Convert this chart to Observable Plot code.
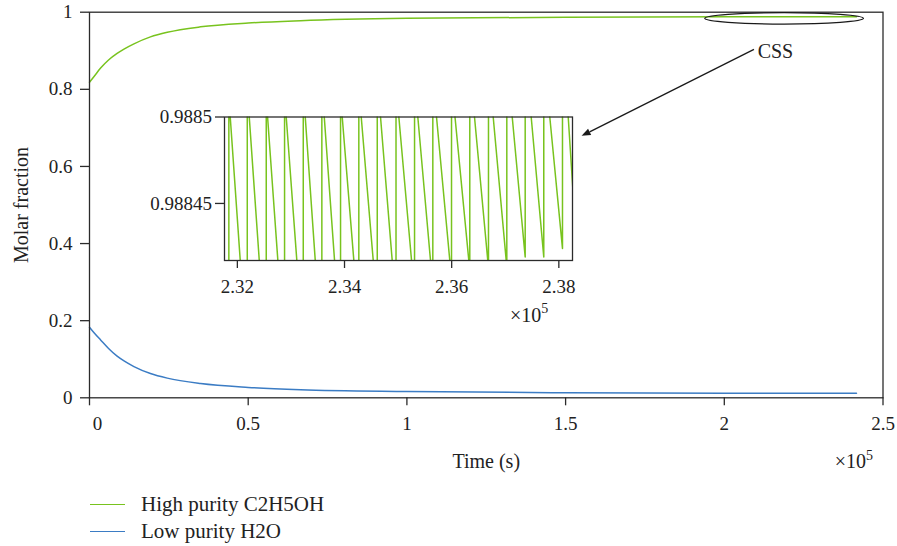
<!DOCTYPE html>
<html>
<head>
<meta charset="utf-8">
<script src="https://cdn.jsdelivr.net/npm/d3@7"></script>
<script src="https://cdn.jsdelivr.net/npm/@observablehq/plot@0.6"></script>
<style>
  body { margin: 0; background: #fff; }
  #wrap { position: relative; width: 897px; height: 546px; font-family: "Liberation Serif", serif; color: #222; background: #fff; }
  #wrap svg { position: absolute; left: 0; top: 0; }
  .legend-row { position: absolute; left: 90px; height: 24px; display: flex; align-items: center; font-size: 21px; white-space: nowrap; }
  .sw { width: 35px; height: 0; border-top: 1.6px solid; margin-right: 16px; }
</style>
</head>
<body>
<div id="wrap"></div>
<script>
// ---------- data ----------
const seriesNames = ["High purity C2H5OH", "Low purity H2O"];
const seriesColors = ["#78c31e", "#3b7cc4"];

// main chart: time (s) and molar fractions
const mainTime  = [0, 1500, 3500, 6000, 8700, 11000, 14000, 19200, 24500, 35000, 50000, 66500, 100000, 150000, 200000, 241650];
const ethanol   = [0.8185, 0.834, 0.855, 0.876, 0.893, 0.905, 0.918, 0.936, 0.948, 0.962, 0.972, 0.978, 0.984, 0.9868, 0.988, 0.9884];
const water     = [0.183, 0.168, 0.150, 0.128, 0.108, 0.095, 0.081, 0.063, 0.051, 0.037, 0.027, 0.021, 0.0163, 0.0132, 0.0120, 0.0116];

const mainXTicks = [0, 50000, 100000, 150000, 200000, 250000];
const mainYTicks = [0, 0.2, 0.4, 0.6, 0.8, 1];

// inset (cyclic steady state) : zoom on ethanol fraction
const insetTime = [
  231841, 231841, 231867, 232054,
  232185, 232185, 232222, 232409,
  232539, 232539, 232564, 232756,
  232881, 232881, 232912, 233110,
  233230, 233230, 233267, 233454,
  233577, 233577, 233622, 233814,
  233926, 233926, 233957, 234174,
  234267, 234267, 234312, 234536,
  234611, 234611, 234672, 234890,
  234961, 234961, 235014, 235251,
  235307, 235307, 235368, 235605,
  235648, 235648, 235717, 235965,
  235997, 235997, 236062, 236320,
  236338, 236338, 236426, 236674,
  236687, 236687, 236775, 237018,
  237029, 237029, 237130,
  237372, 237372, 237484,
  237719, 237719, 237831,
  238068, 238068, 238175, 238300
];
const insetValue = [
  0.9884, 0.98852, 0.9885, 0.988417,
  0.9884, 0.98852, 0.9885, 0.988417,
  0.9884, 0.98852, 0.9885, 0.988417,
  0.9884, 0.98852, 0.9885, 0.988417,
  0.9884, 0.98852, 0.9885, 0.988417,
  0.9884, 0.98852, 0.9885, 0.988417,
  0.9884, 0.98852, 0.9885, 0.988417,
  0.9884, 0.98852, 0.9885, 0.988417,
  0.9884, 0.98852, 0.9885, 0.988417,
  0.9884, 0.98852, 0.9885, 0.988417,
  0.9884, 0.98852, 0.9885, 0.988417,
  0.9884, 0.98852, 0.9885, 0.988417,
  0.9884, 0.98852, 0.9885, 0.988417,
  0.988415, 0.98852, 0.9885, 0.988417,
  0.988415, 0.98853, 0.9885, 0.988417,
  0.988415, 0.98853, 0.9885,
  0.988419, 0.98853, 0.9885,
  0.988419, 0.98853, 0.9885,
  0.988424, 0.98853, 0.9885, 0.98844
];
const insetXTicks = [232000, 234000, 236000, 238000];
const insetYTicks = [0.98845, 0.9885];
const insetXDomain = [231760, 238255];
const insetYDomain = [0.988417, 0.9885];

// annotation
const cssLabel = {text: "CSS", x: 210500, y: 0.899};
const cssEllipse = {x1: 194000, x2: 244000, y1: 0.968, y2: 0.9975};
const cssArrow = {x1: 209500, y1: 0.9025, x2: 155200, y2: 0.678};

// ---------- build ----------
const W = 897, H = 480;
const NS = "http://www.w3.org/2000/svg";
const fontFamily = '"Liberation Serif", serif';
const frameColor = "#2b2b2b";

const mainRows = mainTime.map((t, i) => ({t, ethanol: ethanol[i], water: water[i]}));
const insetRows = insetTime.map((t, i) => ({t, v: insetValue[i]}));

function expLabel(dxFromRight, dyFromBottom) {
  return (index, scales, values, dims) => {
    const t = document.createElementNS(NS, "text");
    t.setAttribute("x", dims.width - dims.marginRight + dxFromRight);
    t.setAttribute("y", dims.height - dims.marginBottom + dyFromBottom);
    t.setAttribute("text-anchor", "end");
    t.setAttribute("fill", "currentColor");
    t.setAttribute("font-size", "20");
    t.append("×10");
    const s = document.createElementNS(NS, "tspan");
    s.setAttribute("dy", "-8.5");
    s.setAttribute("font-size", "14");
    s.textContent = "5";
    t.append(s);
    return t;
  };
}

const ellipseMark = (index, {x, y}) => {
  const e = document.createElementNS(NS, "ellipse");
  const x1 = x(cssEllipse.x1), x2 = x(cssEllipse.x2), y1 = y(cssEllipse.y1), y2 = y(cssEllipse.y2);
  e.setAttribute("cx", (x1 + x2) / 2);
  e.setAttribute("cy", (y1 + y2) / 2);
  e.setAttribute("rx", Math.abs(x2 - x1) / 2);
  e.setAttribute("ry", Math.abs(y2 - y1) / 2);
  e.setAttribute("fill", "none");
  e.setAttribute("stroke", "#1a1a1a");
  e.setAttribute("stroke-width", "1.3");
  return e;
};

const arrowMark = (index, {x, y}) => {
  const g = document.createElementNS(NS, "g");
  const ax = x(cssArrow.x1), ay = y(cssArrow.y1), bx = x(cssArrow.x2), by = y(cssArrow.y2);
  const ang = Math.atan2(by - ay, bx - ax);
  const hl = 9, hw = 3.5;
  const baseX = bx - hl * Math.cos(ang), baseY = by - hl * Math.sin(ang);
  const line = document.createElementNS(NS, "line");
  line.setAttribute("x1", ax); line.setAttribute("y1", ay);
  line.setAttribute("x2", baseX); line.setAttribute("y2", baseY);
  line.setAttribute("stroke", "#1a1a1a"); line.setAttribute("stroke-width", "1.3");
  const p = document.createElementNS(NS, "polygon");
  const px = -Math.sin(ang), py = Math.cos(ang);
  p.setAttribute("points", [
    [bx, by],
    [baseX + hw * px, baseY + hw * py],
    [baseX - hw * px, baseY - hw * py]
  ].map(d => d.join(",")).join(" "));
  p.setAttribute("fill", "#1a1a1a");
  g.append(line, p);
  return g;
};

const main = Plot.plot({
  width: W, height: H,
  marginLeft: 89, marginRight: W - 882.5, marginTop: 11.7, marginBottom: H - 397.3,
  style: {fontFamily, fontSize: "19px", color: "#222", background: "transparent", overflow: "visible"},
  x: {domain: [0, 250000]},
  y: {domain: [0, 1]},
  marks: [
    Plot.line(mainRows, {x: "t", y: "ethanol", stroke: seriesColors[0], strokeWidth: 1.5, curve: "monotone-x"}),
    Plot.line(mainRows, {x: "t", y: "water", stroke: seriesColors[1], strokeWidth: 1.5, curve: "monotone-x"}),
    Plot.frame({stroke: frameColor, strokeWidth: 1.3}),
    Plot.axisY({ticks: mainYTicks, tickSize: 9, tickPadding: 8, stroke: frameColor, strokeWidth: 1.3, tickFormat: d => String(d), label: null}),
    Plot.axisX({ticks: mainXTicks, tickSize: 8, tickPadding: 11, stroke: frameColor, strokeWidth: 1.3, tickFormat: d => d === 0 ? "" : String(d / 1e5), label: null}),
    Plot.axisX({ticks: [0], tickSize: 0, tickPadding: 19, dx: 8, tickFormat: () => "0", label: null}),
    Plot.text(["Time (s)"], {text: d => d, frameAnchor: "bottom", dy: 64, lineAnchor: "middle", textAnchor: "middle", fontSize: 20}),
    Plot.text(["Molar fraction"], {text: d => d, frameAnchor: "left", dx: -68, rotate: -90, textAnchor: "middle", lineAnchor: "middle", fontSize: 20}),
    expLabel(-9.5, 71),
    ellipseMark,
    arrowMark,
    Plot.text([cssLabel], {x: "x", y: "y", text: "text", textAnchor: "start", fontSize: 20})
  ]
});

const inset = Plot.plot({
  width: W, height: H,
  marginLeft: 224, marginRight: W - 572, marginTop: 116.5, marginBottom: H - 260,
  style: {fontFamily, fontSize: "19px", color: "#222", background: "transparent", overflow: "visible"},
  x: {domain: insetXDomain},
  y: {domain: insetYDomain},
  marks: [
    Plot.line(insetRows, {x: "t", y: "v", stroke: seriesColors[0], strokeWidth: 1.5, clip: true}),
    Plot.frame({stroke: frameColor, strokeWidth: 1.3}),
    Plot.axisY({ticks: insetYTicks, tickSize: 9, tickPadding: 3.5, stroke: frameColor, strokeWidth: 1.3, tickFormat: d => String(d), label: null}),
    Plot.axisX({ticks: insetXTicks, tickSize: 8, tickPadding: 11, stroke: frameColor, strokeWidth: 1.3, tickFormat: d => (d / 1e5).toFixed(2), label: null}),
    expLabel(-23.7, 61.7)
  ]
});

const wrap = document.getElementById("wrap");
wrap.append(main, inset);

// legend
const legendTops = [492, 519];
seriesNames.forEach((name, i) => {
  const row = document.createElement("div");
  row.className = "legend-row";
  row.style.top = legendTops[i] + "px";
  const sw = document.createElement("span");
  sw.className = "sw";
  sw.style.borderTopColor = seriesColors[i];
  const tx = document.createElement("span");
  tx.textContent = name;
  row.append(sw, tx);
  wrap.append(row);
});
</script>
</body>
</html>
